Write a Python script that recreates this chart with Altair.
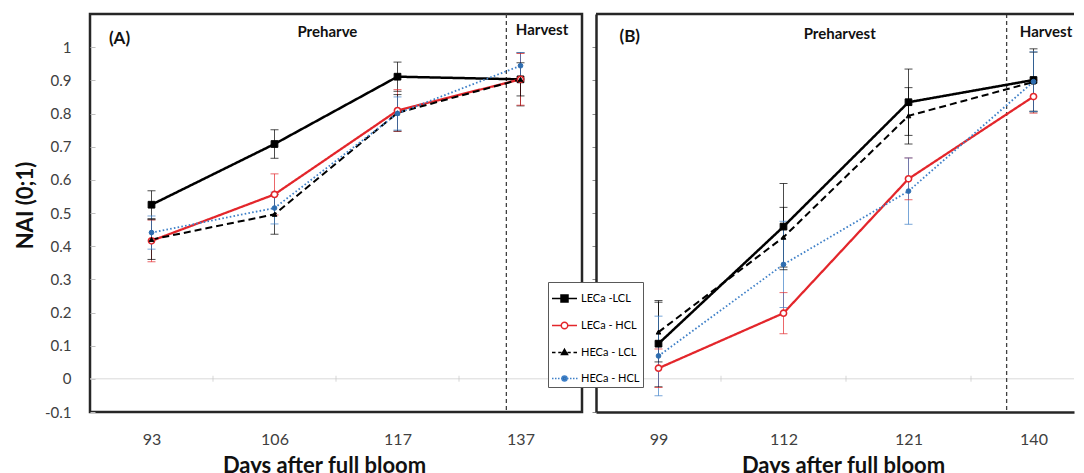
import json
import altair as alt
import pandas as pd

# ---------------- data ----------------
series = ["LECa -LCL", "LECa - HCL", "HECa - LCL", "HECa - HCL"]
days_A = ["93", "106", "117", "137"]
days_B = ["99", "112", "121", "140"]

# Panel A (NAI values)
A_leca_lcl = [0.525, 0.708, 0.911, 0.903]
A_leca_hcl = [0.416, 0.556, 0.809, 0.903]
A_heca_lcl = [0.420, 0.496, 0.802, 0.903]
A_heca_hcl = [0.441, 0.515, 0.800, 0.944]
A_err_leca_lcl = [0.042, 0.043, 0.044, 0.080]
A_err_leca_hcl = [0.063, 0.062, 0.063, 0.078]
A_err_heca_lcl = [0.060, 0.060, 0.055, 0.050]
A_err_heca_hcl = [0.050, 0.048, 0.050, 0.040]

# Panel B (NAI values)
B_leca_lcl = [0.106, 0.459, 0.834, 0.901]
B_leca_hcl = [0.032, 0.198, 0.603, 0.851]
B_heca_lcl = [0.141, 0.427, 0.793, 0.895]
B_heca_hcl = [0.069, 0.345, 0.566, 0.896]
B_err_leca_lcl = [0.130, 0.130, 0.100, 0.094]
B_err_leca_hcl = [0.058, 0.062, 0.063, 0.050]
B_err_heca_lcl = [0.090, 0.090, 0.085, 0.090]
B_err_heca_hcl = [0.120, 0.130, 0.100, 0.090]

# harvest separation (position on the category index axis)
harvest_A = 2.885
harvest_B = 2.785

# annotations: (text, x index, y value)
tags_A = [("(A)", -0.26, 1.026)]
tags_B = [("(B)", -0.23, 1.031)]
phases_A = [("Preharve", 1.43, 1.046), ("Harvest", 3.175, 1.052)]
phases_B = [("Preharvest", 1.45, 1.040), ("Harvest", 3.10, 1.046)]

y_ticks = [-0.1, 0.0, 0.1, 0.2, 0.3, 0.4, 0.5, 0.6, 0.7, 0.8, 0.9, 1.0]
cat_bounds = [0.5, 1.5, 2.5]

# ---------------- styling ----------------
Y_MIN, Y_MAX = -0.1, 1.1
FONT = "Lato"
colors = ["#000000", "#e3262b", "#000000", "#3f80c8"]
dashes = [[1, 0], [1, 0], [7, 4], [1.6, 2.2]]
widths = [2.5, 1.8, 1.8, 2.2]
pt_style = [
    dict(shape="square", fill="#000000", stroke="#000000", size=45, strokeWidth=1),
    dict(shape="circle", fill="#ffffff", stroke="#e3262b", size=38, strokeWidth=1.6),
    dict(shape="triangle-up", fill="#000000", stroke="#000000", size=22, strokeWidth=1),
    dict(shape="circle", fill="#2e6db0", stroke="#2e6db0", size=22, strokeWidth=1),
]

# legend symbols (line + marker) as SVG paths in the unit square
dots = "".join(f"M{x / 100:.2f},0h0.12" for x in range(-100, 100, 24))
legend_paths = [
    "M-1,0H1M-0.28,-0.28H0.28V0.28H-0.28Z",
    "M-1,0H-0.26M0.26,0H1M-0.26,0A0.26,0.26,0,1,0,0.26,0A0.26,0.26,0,1,0,-0.26,0Z",
    "M-1,0H-0.72M-0.5,0H-0.24M0.24,0H0.5M0.72,0H1M0,-0.26L0.24,0.16L-0.24,0.16Z",
    dots + "M-0.2,0A0.2,0.2,0,1,0,0.2,0A0.2,0.2,0,1,0,-0.2,0Z",
]
legend_fill = ["#000000", "#ffffff", "#000000", "#2e6db0"]
legend_stroke = ["#000000", "#e3262b", "#000000", "#3f80c8"]


def make_df(vals, errs):
    rows = []
    for s, v, e in zip(series, vals, errs):
        for i in range(4):
            rows.append(dict(series=s, idx=i, value=v[i], lo=v[i] - e[i], hi=v[i] + e[i]))
    return pd.DataFrame(rows)


dfA = make_df([A_leca_lcl, A_leca_hcl, A_heca_lcl, A_heca_hcl],
              [A_err_leca_lcl, A_err_leca_hcl, A_err_heca_lcl, A_err_heca_hcl])
dfB = make_df([B_leca_lcl, B_leca_hcl, B_heca_lcl, B_heca_hcl],
              [B_err_leca_lcl, B_err_leca_hcl, B_err_heca_lcl, B_err_heca_hcl])


def panel(df, days, harvest, tags, phases, xmax, width, left_axis, show_legend):
    label_expr = json.dumps(days) + "[datum.value]"
    xscale = alt.Scale(domain=[-0.5, xmax], nice=False, zero=False)
    yscale = alt.Scale(domain=[Y_MIN, Y_MAX], nice=False, zero=False)
    xaxis = alt.Axis(values=[0, 1, 2, 3], labelExpr=label_expr, ticks=False, grid=False,
                     domain=not left_axis, domainColor="#262626", domainWidth=2.5,
                     labelFont=FONT, labelFontSize=16, labelColor="#404040", labelPadding=19,
                     title="Days after full bloom", titleFont=FONT, titleFontSize=22,
                     titleFontWeight="bold", titleColor="#111111", titlePadding=8,
                     titleX=234 if left_axis else 247)
    if left_axis:
        yaxis = alt.Axis(values=y_ticks, grid=False, domain=False, offset=-5, tickSize=5,
                         tickColor="#bfbfbf", labelFont=FONT, labelFontSize=15,
                         labelColor="#404040", labelPadding=19,
                         labelExpr="replace(format(datum.value, '.1~f'), '\u2212', '-')",
                         title="NAI (0;1)", titleFont=FONT, titleFontSize=22,
                         titleFontWeight="bold", titleColor="#111111", titlePadding=7,
                         titleY=191)
    else:
        yaxis = alt.Axis(values=y_ticks, grid=False, domain=True, domainColor="#262626",
                         domainWidth=2.5, tickSize=4, tickColor="#8c8c8c", labels=False,
                         title=None)
    X = alt.X("idx:Q", scale=xscale, axis=xaxis)
    base = alt.Chart(df)

    zero = alt.Chart(pd.DataFrame({"y": [0.0]})).mark_rule(color="#d9d9d9", strokeWidth=1).encode(
        y=alt.Y("y:Q", scale=yscale, axis=yaxis))
    minor = alt.Chart(pd.DataFrame({"x": cat_bounds, "y": [0.0] * 3})).mark_tick(
        orient="vertical", size=6, thickness=1, color="#c8c8c8").encode(
        x=alt.X("x:Q", scale=xscale, axis=xaxis), y=alt.Y("y:Q", scale=yscale, axis=yaxis))
    hv = alt.Chart(pd.DataFrame({"x": [harvest]})).mark_rule(
        color="#404040", strokeWidth=1.3, strokeDash=[4, 3]).encode(
        x=alt.X("x:Q", scale=xscale, axis=xaxis))

    cscale = alt.Scale(domain=series, range=colors)
    err = base.mark_rule(strokeWidth=1, opacity=0.7).encode(
        x=X, y=alt.Y("lo:Q", scale=yscale, axis=yaxis), y2="hi:Q",
        color=alt.Color("series:N", scale=cscale, legend=None))
    cap_lo = base.mark_tick(orient="horizontal", size=8, thickness=1, opacity=0.7).encode(
        x=X, y=alt.Y("lo:Q", scale=yscale, axis=yaxis),
        color=alt.Color("series:N", scale=cscale, legend=None))
    cap_hi = base.mark_tick(orient="horizontal", size=8, thickness=1, opacity=0.7).encode(
        x=X, y=alt.Y("hi:Q", scale=yscale, axis=yaxis),
        color=alt.Color("series:N", scale=cscale, legend=None))
    lines = base.mark_line().encode(
        x=X, y=alt.Y("value:Q", scale=yscale, axis=yaxis),
        color=alt.Color("series:N", scale=cscale, legend=None),
        strokeDash=alt.StrokeDash("series:N", scale=alt.Scale(domain=series, range=dashes), legend=None),
        strokeWidth=alt.StrokeWidth("series:N", scale=alt.Scale(domain=series, range=widths), legend=None),
        detail="series:N")
    pts = []
    for s, st in zip(series, pt_style):
        pts.append(base.transform_filter(alt.datum.series == s).mark_point(
            filled=False, opacity=1, **st).encode(
            x=X, y=alt.Y("value:Q", scale=yscale, axis=yaxis)))

    tdf = pd.DataFrame(tags, columns=["t", "x", "y"])
    tag_txt = alt.Chart(tdf).mark_text(font=FONT, fontSize=17, fontWeight="bold", color="#111111").encode(
        x=alt.X("x:Q", scale=xscale, axis=xaxis), y=alt.Y("y:Q", scale=yscale, axis=yaxis), text="t:N")
    pdf = pd.DataFrame(phases, columns=["t", "x", "y"])
    ph_txt = alt.Chart(pdf).mark_text(font=FONT, fontSize=15, fontWeight="bold", color="#111111").encode(
        x=alt.X("x:Q", scale=xscale, axis=xaxis), y=alt.Y("y:Q", scale=yscale, axis=yaxis), text="t:N")

    layers = [zero, minor, hv, err, cap_lo, cap_hi, lines] + pts + [tag_txt, ph_txt]

    if not left_axis:
        top = alt.Chart(pd.DataFrame({"y": [Y_MAX]})).mark_rule(color="#262626", strokeWidth=2.5).encode(
            y=alt.Y("y:Q", scale=yscale, axis=yaxis))
        layers.append(top)

    if show_legend:
        leg = alt.Legend(orient="none", legendX=-48, legendY=268, title=None,
                         fillColor="#ffffff", strokeColor="#595959", padding=3,
                         rowPadding=7, labelFont=FONT, labelFontSize=11,
                         labelColor="#000000", symbolSize=625, symbolStrokeWidth=1.5,
                         labelOffset=3, zindex=5)
        ldf = pd.DataFrame({"series": series, "idx": [None] * 4, "value": [None] * 4})
        legend_layer = alt.Chart(ldf).mark_point(size=625, strokeWidth=1.5, opacity=1, clip=True).encode(
            x=X, y=alt.Y("value:Q", scale=yscale, axis=yaxis),
            shape=alt.Shape("series:N", scale=alt.Scale(domain=series, range=legend_paths), legend=leg),
            fill=alt.Fill("series:N", scale=alt.Scale(domain=series, range=legend_fill), legend=leg),
            stroke=alt.Stroke("series:N", scale=alt.Scale(domain=series, range=legend_stroke), legend=leg))
        layers.append(legend_layer)

    view = alt.ViewBackground(stroke="#262626", strokeWidth=2.5) if left_axis else \
        alt.ViewBackground(stroke="transparent")
    return alt.layer(*layers).properties(width=width, height=398, view=view)


pA = panel(dfA, days_A, harvest_A, tags_A, phases_A, 3.5, 492, True, False)
pB = panel(dfB, days_B, harvest_B, tags_B, phases_B, -0.5 + 478 / 125, 478, False, True)

chart = alt.hconcat(pA, pB, spacing=14, bounds="flush").resolve_legend(
    shape="independent", fill="independent", stroke="independent"
).properties(
    padding={"left": 5, "top": 4, "right": 0, "bottom": 0}
).configure_view(stroke="transparent")

chart.save("out.html", embed_options={"renderer": "svg", "actions": False})
